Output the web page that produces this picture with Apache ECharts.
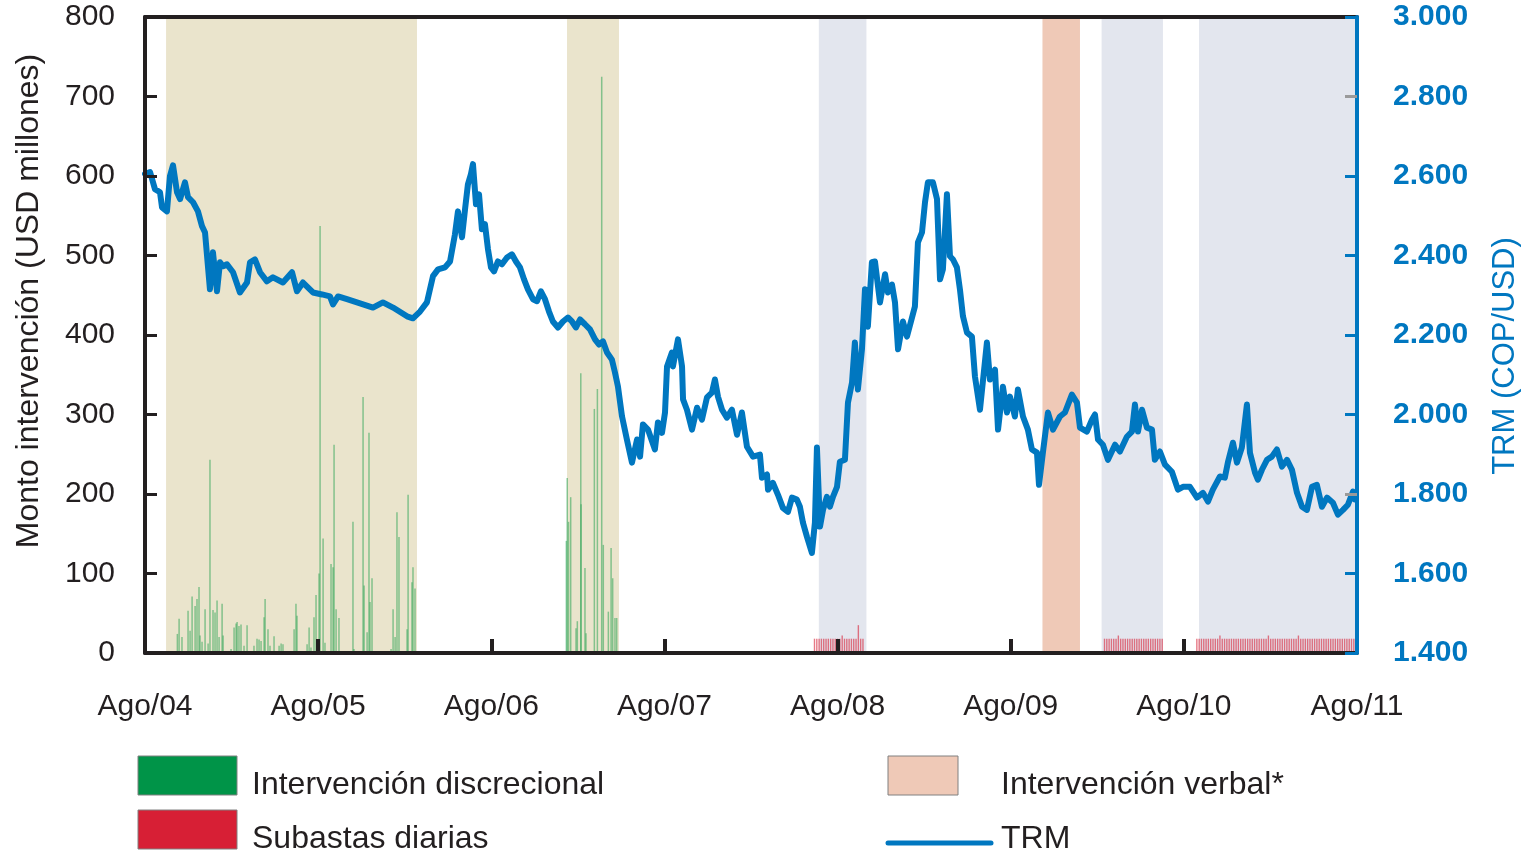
<!DOCTYPE html>
<html>
<head>
<meta charset="utf-8">
<title>Intervención y TRM</title>
<script src="https://cdn.jsdelivr.net/npm/echarts@6/dist/echarts.min.js"></script>
<style>
  html, body { margin: 0; padding: 0; background: #fff; }
  #chart { width: 1538px; height: 853px; }
</style>
</head>
<body>
<div id="chart"></div>
<script>
// eje x: meses desde agosto de 2004
var etiquetasX = ['Ago/04', 'Ago/05', 'Ago/06', 'Ago/07', 'Ago/08', 'Ago/09', 'Ago/10', 'Ago/11'];

// periodos sombreados [inicio, fin] en meses
var franjasDiscrecional = [[1.46, 18.85], [29.25, 32.85]];
var franjasSubasta = [[46.7, 50.0], [66.3, 70.55], [73.05, 84]];
var franjasVerbal = [[62.2, 64.8]];

// TRM (COP/USD) [mes, valor]
var trm = [
  [0,2605],[0.35,2610],[0.69,2567],[1.04,2559],[1.18,2521],[1.52,2511],[1.73,2600],[1.94,2627],[2.22,2559],[2.43,2542],
  [2.77,2584],[2.98,2547],[3.33,2534],[3.67,2511],[3.95,2474],[4.16,2458],[4.5,2315],[4.71,2408],[4.99,2310],[5.2,2383],
  [5.41,2373],[5.68,2378],[6.1,2358],[6.58,2307],[7.07,2332],[7.28,2383],[7.62,2390],[7.97,2358],[8.45,2335],[8.87,2345],
  [9.56,2332],[10.19,2358],[10.53,2310],[10.95,2332],[11.64,2307],[12.27,2302],[12.82,2297],[13.03,2277],[13.38,2297],[14.0,2290],
  [14.69,2282],[15.8,2269],[16.49,2282],[17.19,2269],[18.16,2247],[18.57,2242],[19.06,2259],[19.54,2282],[19.96,2348],[20.31,2365],
  [20.79,2370],[21.14,2385],[21.48,2453],[21.69,2511],[21.97,2446],[22.18,2516],[22.38,2579],[22.59,2605],[22.73,2630],[22.94,2529],
  [23.15,2554],[23.35,2466],[23.56,2479],[23.77,2416],[23.98,2370],[24.19,2360],[24.46,2385],[24.74,2378],[25.09,2395],[25.43,2403],
  [25.71,2385],[25.99,2370],[26.27,2340],[26.54,2315],[26.89,2290],[27.17,2285],[27.44,2310],[27.72,2290],[28.0,2259],[28.27,2234],
  [28.62,2219],[28.97,2234],[29.31,2244],[29.59,2234],[29.87,2219],[30.15,2239],[30.49,2227],[30.84,2214],[31.19,2189],[31.46,2176],
  [31.74,2184],[32.02,2156],[32.36,2138],[32.57,2106],[32.78,2070],[33.06,1995],[33.4,1937],[33.75,1879],[34.1,1937],[34.31,1894],
  [34.51,1975],[34.86,1962],[35.34,1912],[35.55,1980],[35.83,1954],[36.04,2005],[36.18,2121],[36.52,2156],[36.59,2121],[36.94,2189],
  [37.22,2121],[37.29,2038],[37.56,2012],[37.91,1962],[38.26,2017],[38.6,1987],[38.95,2043],[39.29,2055],[39.5,2088],[39.71,2045],
  [39.99,2012],[40.33,1992],[40.68,2012],[41.03,1949],[41.37,2005],[41.72,1919],[42.14,1894],[42.62,1899],[42.76,1841],[43.11,1849],
  [43.18,1811],[43.52,1828],[43.87,1798],[44.21,1765],[44.56,1755],[44.84,1791],[45.18,1786],[45.39,1768],[45.6,1728],[45.88,1692],
  [46.22,1652],[46.43,1728],[46.57,1917],[46.78,1718],[46.99,1760],[47.26,1793],[47.47,1768],[47.68,1793],[47.96,1818],[48.16,1881],
  [48.51,1886],[48.72,2030],[49.0,2080],[49.2,2181],[49.41,2063],[49.69,2164],[49.9,2315],[50.1,2221],[50.38,2383],[50.59,2385],
  [50.94,2282],[51.29,2353],[51.49,2307],[51.77,2327],[51.98,2282],[52.19,2164],[52.53,2234],[52.81,2196],[53.16,2244],[53.36,2272],
  [53.57,2433],[53.85,2458],[54.06,2534],[54.26,2584],[54.61,2584],[54.89,2542],[55.1,2340],[55.3,2365],[55.58,2554],[55.79,2398],
  [56.0,2390],[56.27,2370],[56.48,2315],[56.69,2247],[56.97,2206],[57.31,2196],[57.52,2096],[57.87,2012],[58.35,2181],[58.56,2088],
  [58.91,2113],[59.12,1962],[59.46,2070],[59.74,2005],[59.95,2045],[60.29,1995],[60.5,2063],[60.85,1995],[61.19,1962],[61.47,1912],
  [61.82,1904],[61.96,1823],[62.23,1904],[62.58,2005],[62.93,1962],[63.41,1995],[63.76,2005],[64.24,2050],[64.59,2030],[64.8,1967],
  [65.28,1957],[65.63,1987],[65.84,2000],[66.05,1937],[66.39,1924],[66.74,1886],[67.23,1924],[67.57,1907],[68.05,1944],[68.4,1957],
  [68.61,2025],[68.82,1957],[69.1,2012],[69.44,1967],[69.79,1962],[69.99,1886],[70.34,1907],[70.69,1874],[71.17,1856],[71.59,1811],
  [71.94,1818],[72.42,1818],[72.91,1791],[73.32,1803],[73.67,1781],[74.01,1811],[74.5,1844],[74.84,1841],[75.05,1879],[75.4,1929],
  [75.68,1879],[76.02,1917],[76.37,2025],[76.58,1904],[76.93,1854],[77.13,1836],[77.41,1861],[77.76,1886],[78.1,1894],[78.45,1912],
  [78.8,1869],[79.15,1886],[79.49,1861],[79.84,1803],[80.19,1768],[80.53,1760],[80.88,1818],[81.22,1823],[81.57,1768],[81.92,1791],
  [82.33,1778],[82.68,1748],[83.03,1760],[83.37,1773],[83.72,1806],[83.86,1786]
];

// intervención discrecional (USD millones) [mes, monto]
var discrecional = [
  [2.24,24],[2.36,43],[2.56,20],[2.98,53],[3.12,28],[3.26,71],[3.47,59],[3.6,68],[3.74,83],[3.81,22],
  [3.95,14],[4.16,55],[4.37,12],[4.5,243],[4.71,54],[4.85,51],[4.99,66],[5.13,20],[5.34,62],[5.41,22],
  [5.96,5],[6.17,32],[6.31,37],[6.38,39],[6.51,34],[6.65,36],[6.86,9],[7.07,35],[7.55,9],[7.76,18],
  [7.9,17],[8.04,15],[8.25,45],[8.32,68],[8.52,30],[8.66,9],[8.94,21],[9.29,9],[9.43,12],[9.56,11],
  [10.33,30],[10.46,62],[10.53,47],[11.23,11],[11.37,32],[11.5,7],[11.71,45],[11.85,73],[12.06,100],[12.13,537],
  [12.34,144],[12.47,13],[12.89,112],[13.03,108],[13.1,262],[13.24,55],[13.44,44],[14.41,165],[14.48,5],[15.11,322],
  [15.18,85],[15.39,26],[15.52,277],[15.59,64],[15.73,94],[17.05,5],[17.19,55],[17.33,20],[17.46,177],[17.6,146],
  [18.16,30],[18.23,199],[18.5,89],[18.57,108],[18.71,81],
  [29.2,141],[29.26,220],[29.35,165],[29.5,196],[29.87,31],[29.96,40],[30.2,352],[30.22,187],[30.49,107],[30.56,25],
  [31.14,307],[31.35,332],[31.65,725],[31.76,136],[32.11,52],[32.3,132],[32.41,94],[32.57,44],[32.69,44]
];

// subastas diarias (USD millones), una barra cada 0.16 meses desde el inicio del tramo
var subastaInicio = [46.4, 66.5, 72.9];
var subastaPaso = 0.16;
var subasta1 = [18,18,18,18,18,18,18,18,18,18,18,18,22,18,18,18,18,18,18,35,18,18];
var subasta2 = [18,18,18,18,18,18,22,18,18,18,18,18,18,18,18,18,18,18,18,18,18,18,18,18,18,18];
var subasta3 = [18,18,18,18,18,18,18,18,18,18,22,18,18,18,18,18,18,18,18,18,
                18,18,18,18,18,18,18,18,18,18,18,22,18,18,18,18,18,18,18,18,
                18,18,18,18,22,18,18,18,18,18,18,18,18,18,18,18,18,18,18,18,
                18,18,18,18,18,18,18,18,18,18];

var azul = '#0077C0';
var negro = '#231F20';
var fuente = '"Liberation Sans", Arial, sans-serif';

// armar barras de subasta
var subastas = [];
[subasta1, subasta2, subasta3].forEach(function (tramo, k) {
  for (var i = 0; i < tramo.length; i++) {
    subastas.push([subastaInicio[k] + i * subastaPaso, tramo[i]]);
  }
});

function areas(franjas, color) {
  return franjas.map(function (f) {
    return [{ xAxis: f[0], itemStyle: { color: color } }, { xAxis: f[1] }];
  });
}

var chart = echarts.init(document.getElementById('chart'));

var option = {
  animation: false,
  textStyle: { fontFamily: fuente },
  grid: { left: 145, right: 181, top: 17, bottom: 200 },
  xAxis: [
    {
      type: 'value', min: 0, max: 84, interval: 12, z: 10,
      axisLine: { onZero: false, lineStyle: { color: negro, width: 4 } },
      axisTick: { inside: true, length: 14, lineStyle: { color: negro, width: 4 }, customValues: [12, 24, 36, 48, 60, 72] },
      axisLabel: {
        fontSize: 30, color: negro, margin: 39, fontFamily: fuente,
        formatter: function (v) { return etiquetasX[Math.round(v / 12)]; }
      },
      splitLine: { show: false }
    },
    {
      type: 'value', min: 0, max: 84, position: 'top', z: 10,
      axisLine: { show: true, onZero: false, lineStyle: { color: negro, width: 4 } },
      axisTick: { show: false }, axisLabel: { show: false }, splitLine: { show: false }
    }
  ],
  yAxis: [
    {
      type: 'value', min: 0, max: 800, interval: 100, z: 10,
      name: 'Monto intervención (USD millones)',
      nameLocation: 'middle', nameGap: 100,
      nameTextStyle: { fontSize: 32, color: negro, fontFamily: fuente, padding: [0, 0, 0, 68] },
      axisLine: { show: true, onZero: false, lineStyle: { color: negro, width: 4 } },
      axisTick: { show: true, inside: true, length: 12, lineStyle: { color: negro, width: 3 } },
      axisLabel: { fontSize: 30, color: negro, margin: 30, fontFamily: fuente },
      splitLine: { show: false }
    },
    {
      type: 'value', min: 1400, max: 3000, interval: 200, position: 'right', z: 11,
      name: 'TRM (COP/USD)',
      nameLocation: 'middle', nameGap: 133,
      nameTextStyle: { fontSize: 31, color: azul, fontFamily: fuente, padding: [0, 42, 0, 0] },
      axisLine: { show: true, onZero: false, lineStyle: { color: azul, width: 4 } },
      axisTick: { show: true, inside: true, length: 12, lineStyle: { color: azul, width: 3 } },
      axisLabel: {
        fontSize: 30, color: azul, fontWeight: 'bold', margin: 36, fontFamily: fuente,
        formatter: function (v) { return String(v).replace(/\B(?=(\d{3})+(?!\d))/g, '.'); }
      },
      splitLine: { show: false }
    },
    {
      type: 'value', min: 1400, max: 3000, position: 'right', z: 12,
      axisLine: { show: false, onZero: false },
      axisTick: { show: true, inside: true, length: 12, lineStyle: { color: '#9a9a9a', width: 3 }, customValues: [1800, 2800] },
      axisLabel: { show: false },
      splitLine: { show: false }
    }
  ],
  series: [
    {
      name: 'franjas', type: 'line', z: 1, silent: true,
      data: [[0, 0], [84, 0]], showSymbol: false, lineStyle: { opacity: 0 },
      markArea: {
        silent: true,
        data: areas(franjasDiscrecional, '#EAE4CC')
          .concat(areas(franjasSubasta, '#E3E6EE'))
          .concat(areas(franjasVerbal, '#EFC9B7'))
      }
    },
    {
      name: 'Intervención discrecional', type: 'bar', z: 2,
      data: discrecional, barWidth: 1.5, barGap: '-100%',
      itemStyle: { color: 'rgba(46,164,86,0.55)' }
    },
    {
      name: 'Subastas diarias', type: 'bar', z: 2,
      data: subastas, barWidth: 1.4, barGap: '-100%',
      itemStyle: { color: 'rgba(215,31,53,0.6)' }
    },
    {
      name: 'TRM', type: 'line', yAxisIndex: 1, z: 5,
      data: trm, showSymbol: false,
      lineStyle: { color: azul, width: 6, join: 'round', cap: 'round' }
    }
  ],
  graphic: [
    { type: 'rect', shape: { x: 138, y: 756, width: 99, height: 39 }, style: { fill: '#009448', stroke: '#808080', lineWidth: 1 } },
    { type: 'text', x: 252, y: 785, style: { text: 'Intervención discrecional', fontSize: 32, fontFamily: fuente, fill: negro, verticalAlign: 'middle' } },
    { type: 'rect', shape: { x: 138, y: 810, width: 99, height: 39 }, style: { fill: '#D71F35', stroke: '#808080', lineWidth: 1 } },
    { type: 'text', x: 252, y: 839, style: { text: 'Subastas diarias', fontSize: 32, fontFamily: fuente, fill: negro, verticalAlign: 'middle' } },
    { type: 'rect', shape: { x: 888, y: 756, width: 70, height: 39 }, style: { fill: '#EFC9B7', stroke: '#808080', lineWidth: 1 } },
    { type: 'text', x: 1001, y: 785, style: { text: 'Intervención verbal*', fontSize: 32, fontFamily: fuente, fill: negro, verticalAlign: 'middle' } },
    { type: 'line', shape: { x1: 888, y1: 843, x2: 991, y2: 843 }, style: { stroke: azul, lineWidth: 5, lineCap: 'round' } },
    { type: 'text', x: 1001, y: 839, style: { text: 'TRM', fontSize: 32, fontFamily: fuente, fill: negro, verticalAlign: 'middle' } }
  ]
};

chart.setOption(option);
</script>
</body>
</html>
